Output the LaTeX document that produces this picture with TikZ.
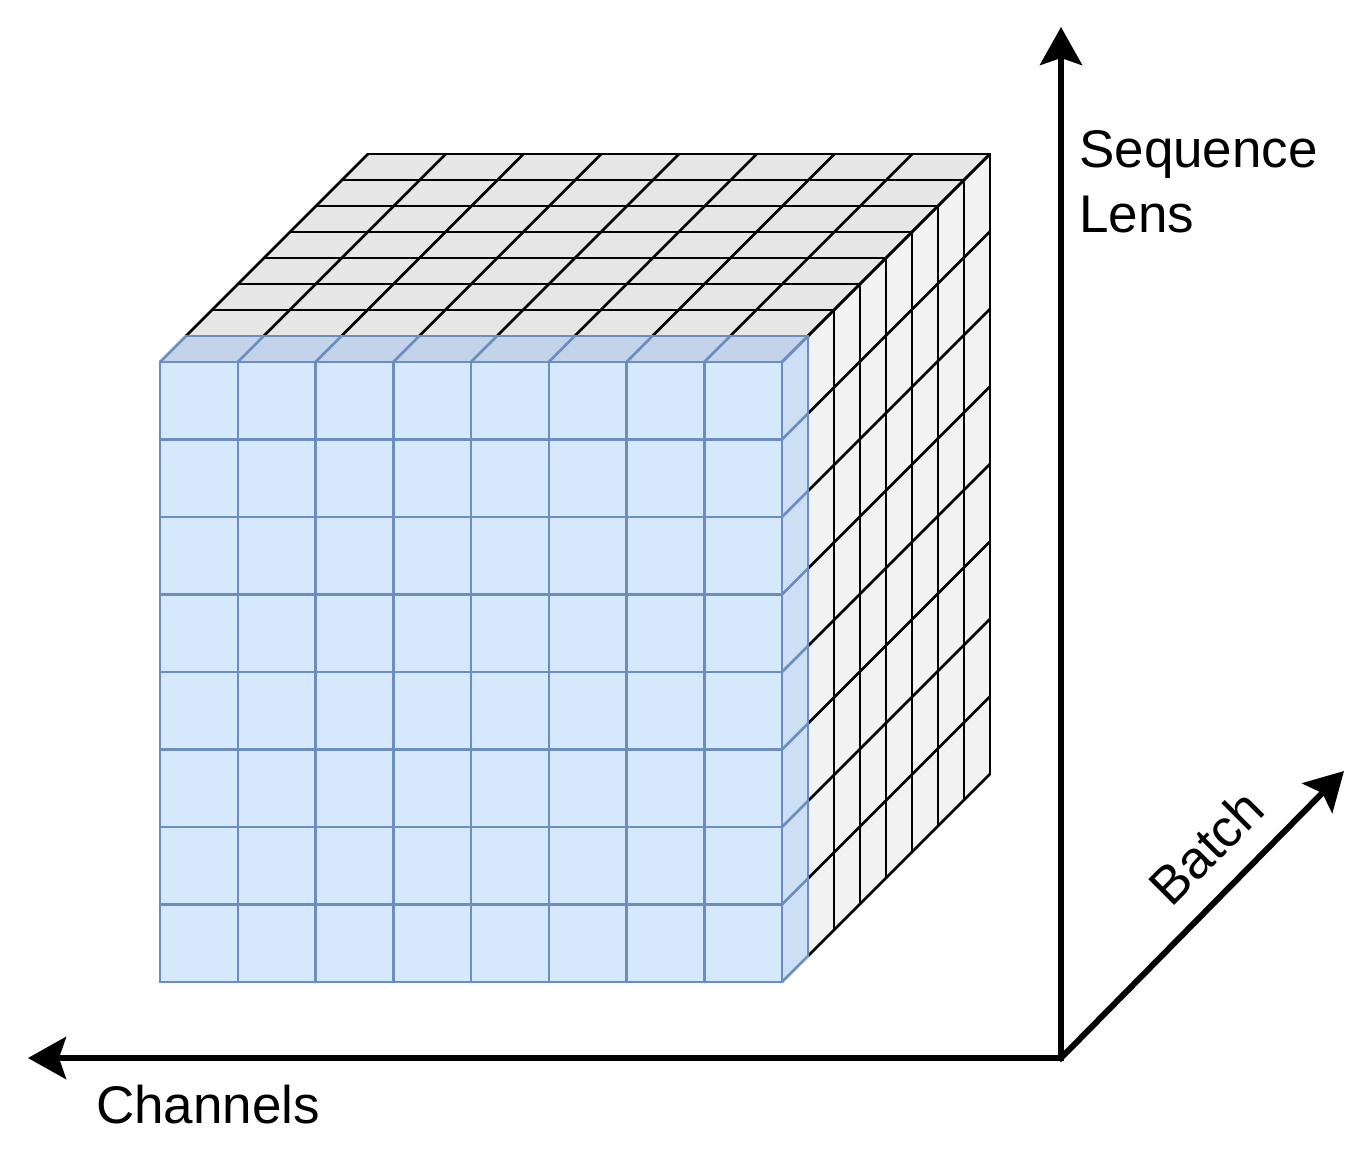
\documentclass[tikz,border=0pt]{standalone}
\usepackage{fontspec}
\setmainfont{Liberation Sans}
\usetikzlibrary{arrows.meta}
\definecolor{graytop}{HTML}{E6E6E6}
\definecolor{grayside}{HTML}{F2F2F2}
\definecolor{bluefront}{HTML}{D6E8FC}
\definecolor{bluetop}{HTML}{C2D3EA}
\definecolor{blueside}{HTML}{CCDFF5}
\definecolor{bluestroke}{HTML}{6C8EBF}
\begin{document}
\begin{tikzpicture}[x=1pt,y=-1pt,
  gridline/.style={line width=2.5pt, draw=black, line cap=round},
  blueline/.style={line width=2.5pt, draw=bluestroke, line cap=round},
  axis/.style={line width=6pt, draw=black, line cap=rect, -{Stealth[length=38pt,width=42pt,inset=7pt]}},
  axislabel/.style={font=\fontsize{53}{65}\selectfont, inner sep=0pt}]
\useasboundingbox (0,0) rectangle (1360,1150);
\def\mygx{160}\def\mygy{362}\def\mycw{77.75}\def\mych{77.5}\def\mydep{26}
\pgfmathsetmacro\myrx{\mygx+8*\mycw}
\pgfmathsetmacro\myby{\mygy+8*\mych}
% gray faces
\fill[graytop] (\mygx,\mygy) -- (\myrx,\mygy) -- ({\myrx+8*\mydep},{\mygy-8*\mydep}) -- ({\mygx+8*\mydep},{\mygy-8*\mydep}) -- cycle;
\fill[grayside] (\myrx,\mygy) -- ({\myrx+8*\mydep},{\mygy-8*\mydep}) -- ({\myrx+8*\mydep},{\myby-8*\mydep}) -- (\myrx,\myby) -- cycle;
\foreach \k in {1,...,8}
  \draw[gridline] ({\mygx+\k*\mydep},{\mygy-\k*\mydep}) -- ({\myrx+\k*\mydep},{\mygy-\k*\mydep});
\foreach \j in {0,...,8}
  \draw[gridline] ({\mygx+\j*\mycw+\mydep},{\mygy-\mydep}) -- ({\mygx+\j*\mycw+8*\mydep},{\mygy-8*\mydep});
\foreach \k in {1,...,8}
  \draw[gridline] ({\myrx+\k*\mydep},{\mygy-\k*\mydep}) -- ({\myrx+\k*\mydep},{\myby-\k*\mydep});
\foreach \i in {0,...,8}
  \draw[gridline] ({\myrx+\mydep},{\mygy+\i*\mych-\mydep}) -- ({\myrx+8*\mydep},{\mygy+\i*\mych-8*\mydep});
% blue front layer
\fill[bluetop] (\mygx,\mygy) -- (\myrx,\mygy) -- ({\myrx+\mydep},{\mygy-\mydep}) -- ({\mygx+\mydep},{\mygy-\mydep}) -- cycle;
\fill[blueside] (\myrx,\mygy) -- ({\myrx+\mydep},{\mygy-\mydep}) -- ({\myrx+\mydep},{\myby-\mydep}) -- (\myrx,\myby) -- cycle;
\fill[bluefront] (\mygx,\mygy) rectangle (\myrx,\myby);
\draw[blueline] ({\mygx+\mydep},{\mygy-\mydep}) -- ({\myrx+\mydep},{\mygy-\mydep}) -- ({\myrx+\mydep},{\myby-\mydep});
\foreach \j in {0,...,8}
  \draw[blueline] ({\mygx+\j*\mycw},\mygy) -- ({\mygx+\j*\mycw+\mydep},{\mygy-\mydep});
\foreach \i in {0,...,8}
  \draw[blueline] (\myrx,{\mygy+\i*\mych}) -- ({\myrx+\mydep},{\mygy+\i*\mych-\mydep});
\foreach \j in {0,...,8}
  \draw[blueline] ({\mygx+\j*\mycw},\mygy) -- ({\mygx+\j*\mycw},\myby);
\foreach \i in {0,...,8}
  \draw[blueline] (\mygx,{\mygy+\i*\mych}) -- (\myrx,{\mygy+\i*\mych});
% axes
\coordinate (O) at (1061,1058);
\coordinate (seqEnd) at (1061,27);
\coordinate (chEnd) at (28,1058);
\coordinate (batchEnd) at (1344,771);
\draw[axis] (O) -- (seqEnd);
\draw[axis] (O) -- (chEnd);
\draw[axis] (O) -- (batchEnd);
\node[axislabel, anchor=base west, align=left] (seqlbl) at (1079,233) {Sequence\\Lens};
\node[axislabel, anchor=base west] (chlbl) at (96,1123) {Channels};
\node[axislabel, rotate=45] (batchlbl) at (1206,847) {Batch};
\end{tikzpicture}
\end{document}
